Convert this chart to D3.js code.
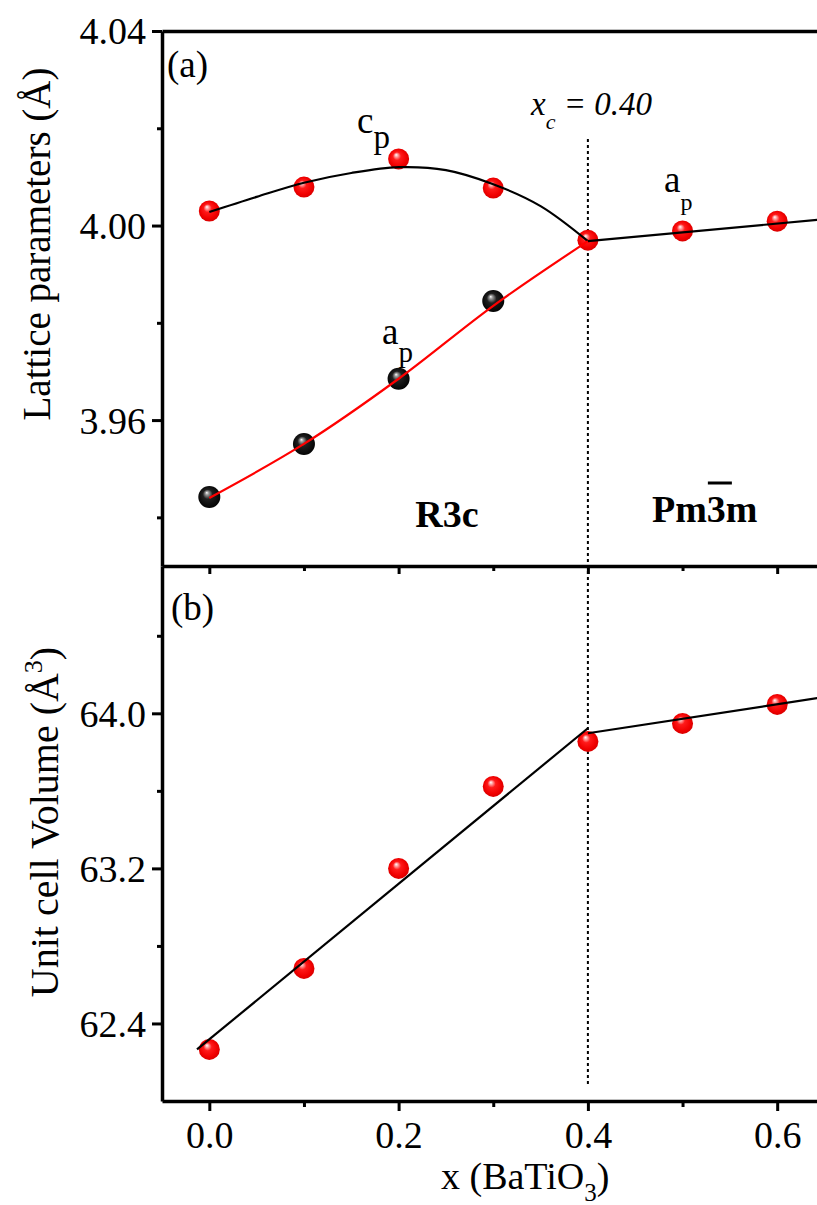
<!DOCTYPE html>
<html><head><meta charset="utf-8">
<script src="https://cdn.jsdelivr.net/npm/d3@7"></script>
<style>
body{margin:0;background:#fff}
svg{display:block}
text{font-family:"Liberation Serif","Times New Roman",serif;fill:#000}
</style>
</head><body>
<svg id="chart" width="817" height="1205"></svg>
<script>
// ---------------- data ----------------
const xComp      = [0, 0.1, 0.2, 0.3, 0.4, 0.5, 0.6];          // BaTiO3 fraction
const cpR3cX     = [0, 0.1, 0.2, 0.3];
const cpR3c      = [4.0030, 4.0079, 4.0137, 4.0077];           // c_p (red), R3c
const apR3cX     = [0, 0.1, 0.2, 0.3];
const apR3c      = [3.9442, 3.9551, 3.9685, 3.9845];           // a_p (black), R3c
const apCubicX   = [0.4, 0.5, 0.6];
const apCubic    = [3.9970, 3.9989, 4.0009];                   // a_p (red), Pm-3m
const volume     = [62.266, 62.684, 63.200, 63.623, 63.855, 63.948, 64.046];

// fitted guide curves
const cpFitX     = [0, 0.05, 0.1, 0.15, 0.2, 0.25, 0.3, 0.35, 0.4];
const cpFit      = [4.0028, 4.0059, 4.0088, 4.0108, 4.0120, 4.0114, 4.0085, 4.0040, 3.9968];
const apFitX     = [0, 0.1, 0.2, 0.3, 0.4];
const apFit      = [3.9440, 3.9551, 3.9685, 3.9835, 3.9968];
const apCubFitX  = [0.4, 0.65];
const apCubFit   = [3.9968, 4.0013];
const volFitR3cX = [-0.013, 0.4];
const volFitR3c  = [62.266, 63.923];
const volFitCubX = [0.4, 0.65];
const volFitCub  = [63.897, 64.084];

const xMajor = [0, 0.2, 0.4, 0.6], xMinor = [0.1, 0.3, 0.5];
const yaMajor = [3.96, 4.00, 4.04], yaMinor = [3.94, 3.98, 4.02];
const ybMajor = [62.4, 63.2, 64.0], ybMinor = [62.8, 63.6, 64.4];
const xCritical = 0.4;

// ---------------- layout ----------------
const svg = d3.select("#chart");
const L = 162, R = 824.5, T = 31, M = 566, B = 1101;
const x  = d3.scaleLinear().domain([-0.05, 0.65]).range([L, R]);
const ya = d3.scaleLinear().domain([3.93, 4.04]).range([M, T]);
const yb = d3.scaleLinear().domain([62.0, 64.76]).range([B, M]);

const defs = svg.append("defs");
function sphere(id, stops){
  const g = defs.append("radialGradient").attr("id", id)
    .attr("cx","50%").attr("cy","50%").attr("r","55%").attr("fx","38%").attr("fy","30%");
  stops.forEach(s => g.append("stop").attr("offset", s[0]).attr("stop-color", s[1]));
}
sphere("gRed",   [["0%","#ffffff"],["12%","#ffb0b0"],["35%","#ff1a1a"],["75%","#f00000"],["100%","#d00000"]]);
sphere("gBlack", [["0%","#ffffff"],["14%","#9a9a9a"],["40%","#202020"],["100%","#000000"]]);

defs.append("clipPath").attr("id","clipA").append("rect").attr("x",L).attr("y",T).attr("width",R-L).attr("height",M-T);
defs.append("clipPath").attr("id","clipB").append("rect").attr("x",L).attr("y",M).attr("width",R-L).attr("height",B-M);

// ---------------- axes ----------------
function styleAxis(g){
  g.selectAll(".domain").attr("stroke","#000").attr("stroke-width",3.5);
  g.selectAll(".tick line").attr("stroke","#000").attr("stroke-width",3);
  g.selectAll(".tick text").style("font-size","38px").attr("fill","#000");
}
function yAxis(scale, major, minor, fmt){
  const gMin = svg.append("g").attr("transform",`translate(${L},0)`)
    .call(d3.axisLeft(scale).tickValues(minor).tickSize(5).tickSizeOuter(0).tickFormat(""));
  gMin.select(".domain").remove(); styleAxis(gMin);
  const g = svg.append("g").attr("transform",`translate(${L},0)`)
    .call(d3.axisLeft(scale).tickValues(major).tickSize(10).tickSizeOuter(0).tickPadding(6).tickFormat(d3.format(fmt)));
  styleAxis(g);
  g.selectAll(".tick text").attr("dy","0.34em");
}
yAxis(ya, yaMajor, yaMinor, ".2f");
yAxis(yb, ybMajor, ybMinor, ".1f");

function xAxis(yPos, withLabels, majLen, minLen){
  const gMin = svg.append("g").attr("transform",`translate(0,${yPos})`)
    .call(d3.axisBottom(x).tickValues(xMinor).tickSize(minLen).tickSizeOuter(0).tickFormat(""));
  gMin.select(".domain").remove(); styleAxis(gMin);
  const g = svg.append("g").attr("transform",`translate(0,${yPos})`)
    .call(d3.axisBottom(x).tickValues(xMajor).tickSize(majLen).tickSizeOuter(0).tickPadding(10)
      .tickFormat(withLabels ? d3.format(".1f") : ""));
  styleAxis(g);
  g.selectAll(".tick text").attr("dy","0.72em");
}
xAxis(B, true, 10, 6);
xAxis(M, false, 8, 5);
// top frame with tiny inward ticks
const gTop = svg.append("g").attr("transform",`translate(0,${T})`)
  .call(d3.axisBottom(x).tickValues(xMajor.concat(xMinor)).tickSize(2).tickSizeOuter(0).tickFormat(""));
styleAxis(gTop);

// ---------------- critical composition line ----------------
svg.append("line").attr("x1",x(xCritical)).attr("x2",x(xCritical)).attr("y1",139).attr("y2",1087)
  .attr("stroke","#000").attr("stroke-width",2).attr("stroke-dasharray","3,3");

// ---------------- panels ----------------
const pa = svg.append("g").attr("clip-path","url(#clipA)");
const pb = svg.append("g").attr("clip-path","url(#clipB)");

function markers(g, xs, ys, yScale, grad, r){
  g.selectAll(null).data(xs.map((d,i)=>[d, ys[i]])).enter().append("circle")
    .attr("cx",d=>x(d[0])).attr("cy",d=>yScale(d[1])).attr("r",r).attr("fill",`url(#${grad})`);
}
function curve(g, xs, ys, yScale, color, w, smooth){
  const line = d3.line().x(d=>x(d[0])).y(d=>yScale(d[1]))
    .curve(smooth ? d3.curveCatmullRom.alpha(0.5) : d3.curveLinear);
  g.append("path").datum(xs.map((d,i)=>[d, ys[i]])).attr("d",line)
    .attr("fill","none").attr("stroke",color).attr("stroke-width",w);
}

markers(pa, cpR3cX, cpR3c, ya, "gRed", 10.5);
markers(pa, apR3cX, apR3c, ya, "gBlack", 11);
markers(pa, apCubicX, apCubic, ya, "gRed", 10.5);
curve(pa, cpFitX, cpFit, ya, "#000", 2.2, true);
curve(pa, apFitX, apFit, ya, "#ff0000", 2.2, true);
curve(pa, apCubFitX, apCubFit, ya, "#000", 2.2, false);

markers(pb, xComp, volume, yb, "gRed", 10.5);
curve(pb, volFitR3cX, volFitR3c, yb, "#000", 2.2, false);
curve(pb, volFitCubX, volFitCub, yb, "#000", 2.2, false);

// ---------------- texts ----------------
svg.append("text").attr("x",167).attr("y",77).style("font-size","37px").text("(a)");
svg.append("text").attr("x",171).attr("y",620).style("font-size","37px").text("(b)");

const xc = svg.append("text").attr("x",531).attr("y",115).style("font-size","33px").style("font-style","italic");
xc.append("tspan").text("x");
xc.append("tspan").attr("dy",14).style("font-size","22px").text("c");
xc.append("tspan").attr("dy",-14).text(" = 0.40");

const cp = svg.append("text").attr("x",357).attr("y",133).style("font-size","37px");
cp.append("tspan").text("c");
cp.append("tspan").attr("dy",15).style("font-size","33px").text("p");

const ap1 = svg.append("text").attr("x",382).attr("y",344).style("font-size","37px");
ap1.append("tspan").text("a");
ap1.append("tspan").attr("dy",18).style("font-size","29px").text("p");

const ap2 = svg.append("text").attr("x",664).attr("y",192).style("font-size","37px");
ap2.append("tspan").text("a");
ap2.append("tspan").attr("dy",18).style("font-size","24px").text("p");

svg.append("text").attr("x",447).attr("y",527).attr("text-anchor","middle")
  .style("font-size","38px").style("font-weight","bold").text("R3c");
const pm = svg.append("text").attr("x",652).attr("y",522)
  .style("font-size","38px").style("font-weight","bold").text("Pm3m");
const pmNode = pm.node();
const s3 = pmNode.getStartPositionOfChar(2).x, e3 = pmNode.getEndPositionOfChar(2).x;
svg.append("line").attr("x1",s3+1).attr("x2",e3+6).attr("y1",483).attr("y2",483)
  .attr("stroke","#000").attr("stroke-width",3);

// axis titles
svg.append("text").attr("transform","translate(50,244) rotate(-90)").attr("text-anchor","middle")
  .style("font-size","39px").text("Lattice parameters (Å)");
const vt = svg.append("text").attr("transform","translate(58,822) rotate(-90)").attr("text-anchor","middle")
  .style("font-size","40px");
vt.append("tspan").text("Unit cell Volume (Å");
vt.append("tspan").attr("dy",-16).style("font-size","26px").text("3");
vt.append("tspan").attr("dy",16).text(")");

const xt = svg.append("text").attr("x",441).attr("y",1189).style("font-size","38px");
xt.append("tspan").text("x (BaTiO");
xt.append("tspan").attr("dy",12).style("font-size","25px").text("3");
xt.append("tspan").attr("dy",-12).text(")");
</script>
</body></html>
